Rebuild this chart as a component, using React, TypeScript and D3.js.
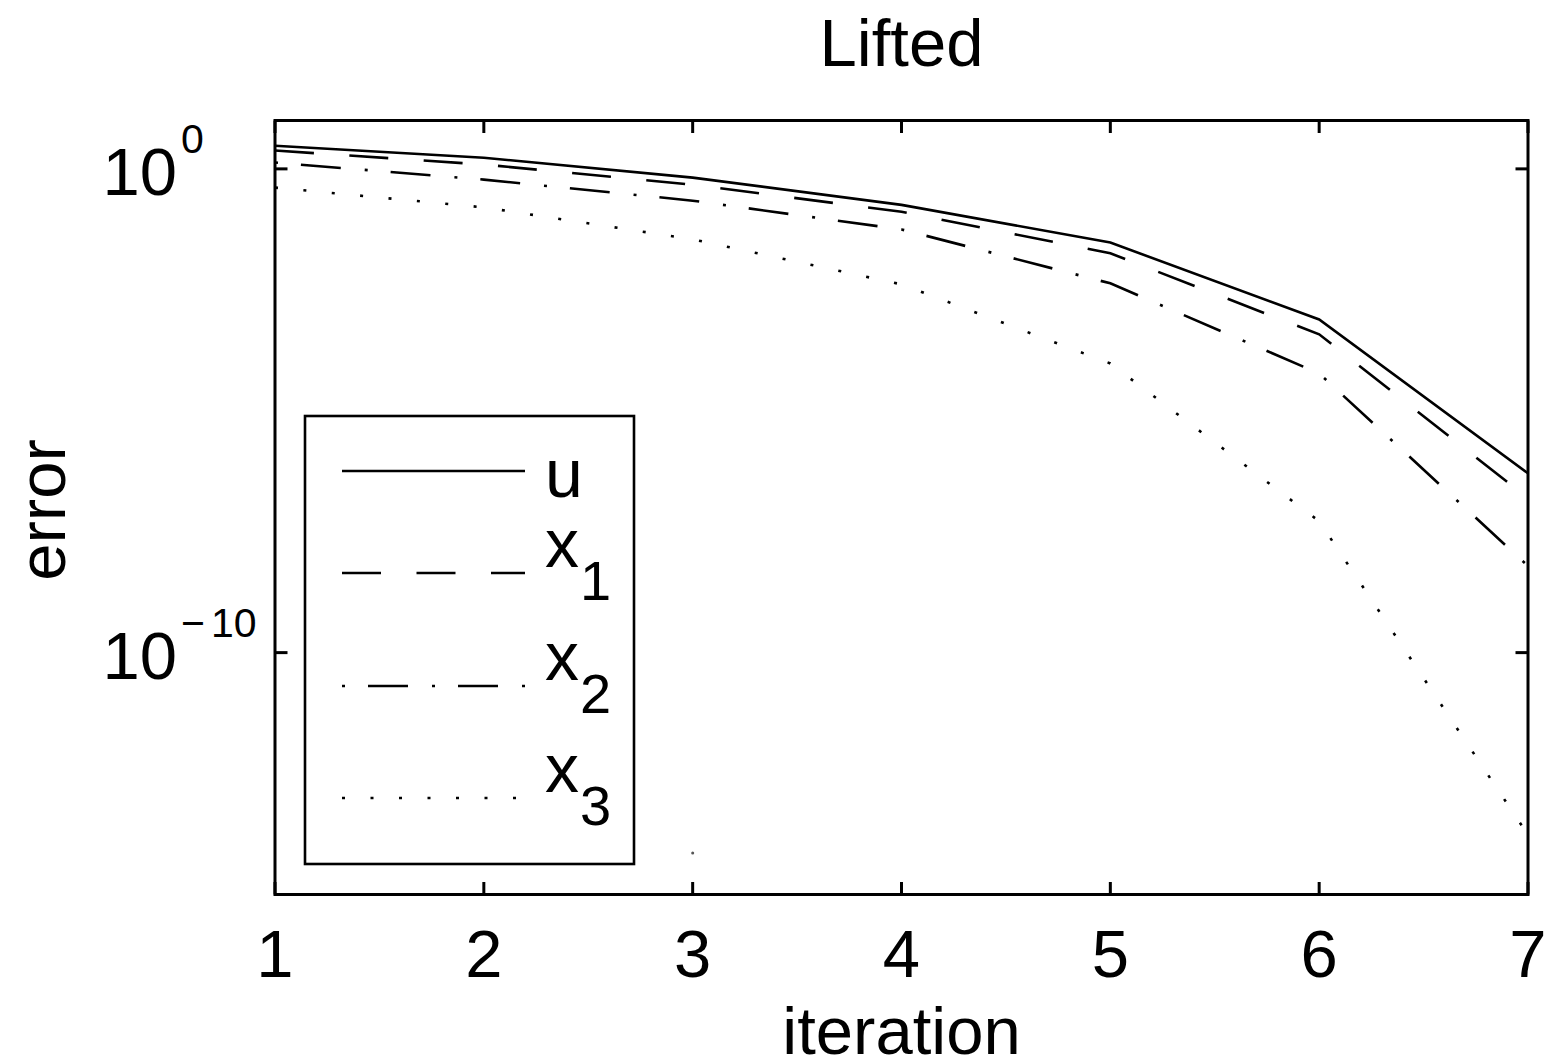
import React from "react";
import * as d3 from "d3";

// ---- data ----
const iterations = [1, 2, 3, 4, 5, 6, 7];
const errU = [3.0, 1.7, 0.66, 0.18, 3.0e-2, 7.7e-4, 5.1e-7];
const errX1 = [2.4, 1.23, 0.47, 0.13, 1.8e-2, 3.8e-4, 1.55e-7];
const errX2 = [1.35, 0.6, 0.22, 5.6e-2, 4.3e-3, 5.9e-5, 6.2e-9];
const errX3 = [0.41, 0.16, 3.5e-2, 4.1e-3, 9.5e-5, 5.2e-8, 1.7e-14];
const strayIter = [3];
const strayErr = [7.2e-15];
const xTicks = [1, 2, 3, 4, 5, 6, 7];
const yTickExps = [0, -10];
const seriesNames = ["u", "x", "x", "x"];
const seriesSubs = ["", "1", "2", "3"];
const title = "Lifted";
const xLabel = "iteration";
const yLabel = "error";

const W = 1549;
const H = 1063;
const FONT = "'Liberation Sans', Arial, Helvetica, sans-serif";
const left = 275, right = 1528, top = 120.5, bottom = 894.5;

const dashes = ["none", "39 35.5", "3 23 40 24", "3 25.5"];

export default function App() {
  const x = d3.scaleLinear().domain([1, 7]).range([left, right]);
  const y = d3.scaleLog().domain([1e-15, 1e1]).range([bottom, top]);
  const series = [errU, errX1, errX2, errX3];
  const line = d3
    .line<number>()
    .x((_, i) => x(iterations[i]))
    .y((d) => y(d));

  const tickLen = 12.5;
  const legendBox = { x0: 305, y0: 416, x1: 634, y1: 864 };
  const rowY = [471, 573, 686, 798];
  const lineX0 = 342, lineX1 = 525;

  return (
    <svg
      width={W}
      height={H}
      style={{ position: "absolute", left: 0, top: 0, background: "#fff" }}
      fontFamily={FONT}
    >
      <defs>
        <clipPath id="plotclip">
          <rect x={left} y={top} width={right - left} height={bottom - top} />
        </clipPath>
      </defs>
      <rect x={0} y={0} width={W} height={H} fill="#fff" />

      {/* title */}
      <text x={(left + right) / 2} y={66} fontSize={67} textAnchor="middle" fill="#000">
        {title}
      </text>

      {/* series */}
      <g clipPath="url(#plotclip)">
        {series.map((s, i) => (
          <path
            key={i}
            d={line(s) || ""}
            fill="none"
            stroke="#000"
            strokeWidth={2.6}
            strokeDasharray={dashes[i]}
          />
        ))}
        {strayIter.map((it, i) => (
          <circle key={i} cx={x(it)} cy={y(strayErr[i])} r={1.5} fill="#555" />
        ))}
      </g>

      {/* axes box */}
      <rect
        x={left}
        y={top}
        width={right - left}
        height={bottom - top}
        fill="none"
        stroke="#000"
        strokeWidth={3}
      />

      {/* x ticks */}
      {xTicks.map((t) => (
        <g key={"xt" + t}>
          <line x1={x(t)} x2={x(t)} y1={bottom} y2={bottom - tickLen} stroke="#000" strokeWidth={3} />
          <line x1={x(t)} x2={x(t)} y1={top} y2={top + tickLen} stroke="#000" strokeWidth={3} />
          <text x={x(t)} y={977} fontSize={67} textAnchor="middle" fill="#000">
            {t}
          </text>
        </g>
      ))}

      {/* y ticks */}
      {yTickExps.map((e) => {
        const yy = y(Math.pow(10, e));
        return (
          <g key={"yt" + e}>
            <line x1={left} x2={left + tickLen} y1={yy} y2={yy} stroke="#000" strokeWidth={3} />
            <line x1={right} x2={right - tickLen} y1={yy} y2={yy} stroke="#000" strokeWidth={3} />
            <text x={177} y={yy + 26} fontSize={67} textAnchor="end" fill="#000">
              10
            </text>
            <text x={181} y={yy - 16} fontSize={41} textAnchor="start" fill="#000">
              {e < 0 ? (
                <>
                  <tspan>{"\u2212"}</tspan>
                  <tspan dx={6}>{String(Math.abs(e))}</tspan>
                </>
              ) : (
                String(e)
              )}
            </text>
          </g>
        );
      })}

      {/* axis labels */}
      <text x={(left + right) / 2} y={1054} fontSize={67} textAnchor="middle" fill="#000">
        {xLabel}
      </text>
      <text
        transform={`translate(65, 510) rotate(-90)`}
        fontSize={67}
        textAnchor="middle"
        fill="#000"
      >
        {yLabel}
      </text>

      {/* legend */}
      <rect
        x={legendBox.x0}
        y={legendBox.y0}
        width={legendBox.x1 - legendBox.x0}
        height={legendBox.y1 - legendBox.y0}
        fill="#fff"
        stroke="#000"
        strokeWidth={2.6}
      />
      {seriesNames.map((n, i) => (
        <g key={"lg" + i}>
          <line
            x1={lineX0}
            x2={lineX1}
            y1={rowY[i]}
            y2={rowY[i]}
            stroke="#000"
            strokeWidth={2.6}
            strokeDasharray={dashes[i]}
          />
          <text x={545} y={seriesSubs[i] ? rowY[i] - 6 : rowY[i] + 26} fontSize={68} fill="#000">
            {n}
          </text>
          {seriesSubs[i] && (
            <text x={580} y={rowY[i] + 27} fontSize={56} fill="#000">
              {seriesSubs[i]}
            </text>
          )}
        </g>
      ))}
    </svg>
  );
}
